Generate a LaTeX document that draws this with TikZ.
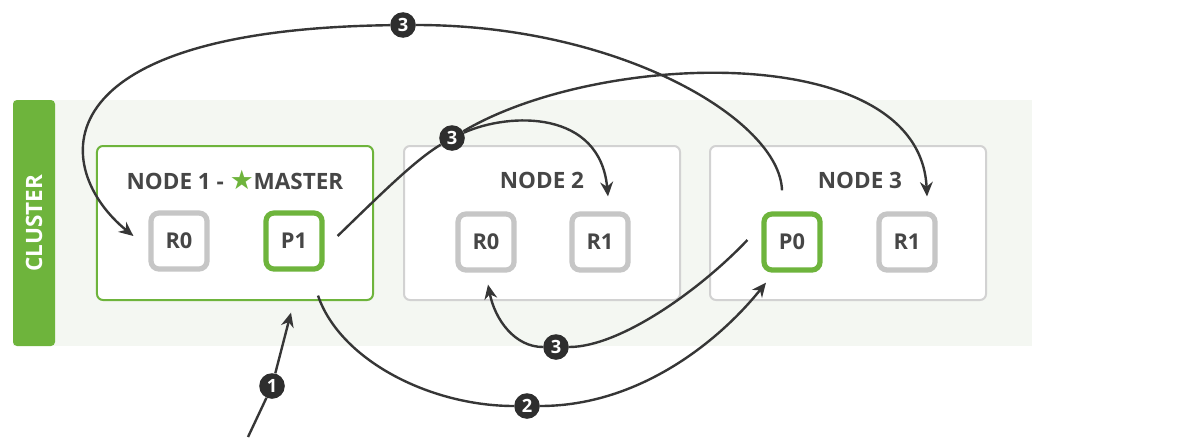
\documentclass[tikz,border=0pt]{standalone}
\usepackage{fontspec}
\setmainfont{Open Sans}
\newfontfamily\starfont{DejaVu Sans}
\usetikzlibrary{arrows.meta}

\definecolor{esgreen}{HTML}{6EB43C}
\definecolor{clusterbg}{HTML}{F4F7F2}
\definecolor{boxgray}{HTML}{D2D2D2}
\definecolor{shardgray}{HTML}{C6C6C6}
\definecolor{txtgray}{HTML}{464646}
\definecolor{linkgray}{HTML}{363636}
\definecolor{badgegray}{HTML}{2E2E2E}

\begin{document}
\begin{tikzpicture}[x=0.25mm, y=-0.25mm, >={Stealth[length=3.6mm, width=3.2mm]},
  font=\bfseries\fontsize{16}{18}\selectfont,
  box/.style={draw=boxgray, line width=0.5mm, fill=white, rounded corners=1.5mm,
    minimum width=69mm, minimum height=38.5mm},
  shard/.style={draw=shardgray, line width=1.3mm, fill=white, rounded corners=2mm,
    minimum size=14mm, text=txtgray, font=\bfseries\fontsize{15.5}{16}\selectfont},
  primary/.style={shard, draw=esgreen},
  title/.style={text=txtgray},
  badge/.style={circle, fill=badgegray, text=white, inner sep=0pt, minimum size=6.4mm,
    font=\bfseries\fontsize{13}{13}\selectfont},
  link/.style={->, line width=0.6mm, draw=linkgray}]
  \useasboundingbox (0,0) rectangle (1189,443);

  % cluster
  \fill[clusterbg] (13,100) rectangle (1032,346);
  \fill[esgreen, rounded corners=1mm] (13,100) rectangle (55,346);
  \node[rotate=90, text=white] (cl) at (34,223) {CLUSTER};

  % nodes
  \node[box, draw=esgreen] (n1) at (235,223) {};
  \node[box] (n2) at (542,223) {};
  \node[box] (n3) at (848,223) {};
  \node[title] (t1) at (235,180) {NODE 1 - {\color{esgreen}\starfont\fontsize{19}{18}\selectfont ★}MASTER};
  \node[title] (t2) at (542,180) {NODE 2};
  \node[title] (t3) at (860,180) {NODE 3};

  % shards
  \node[shard] (n1r0) at (179,241) {R0};
  \node[primary] (n1p1) at (294,241) {P1};
  \node[shard] (n2r0) at (486,242) {R0};
  \node[shard] (n2r1) at (600,242) {R1};
  \node[primary] (n3p0) at (792,242) {P0};
  \node[shard] (n3r1) at (907,242) {R1};

  % steps
  \node[badge] (b1) at (272,386) {1};
  \node[badge] (b2) at (527,406) {2};
  \node[badge] (b3top) at (403,25) {3};
  \node[badge] (b3mid) at (452,138) {3};
  \node[badge] (b3low) at (556,347) {3};

  \coordinate (in1) at (248,437);
  \draw[link] (in1) -- (b1) -- ([shift={(-3,41)}]n1p1.south);
  \draw[link] ([shift={(24,24)}]n1p1.south) .. controls (340,360) and (430,406) .. (b2)
                                             .. controls (640,406) and (720,340) .. ([shift={(-26,10)}]n3p0.south);
  \draw[link] ([shift={(-10,-21)}]n3p0.north) .. controls (780,120) and (620,25) .. (b3top)
                                              .. controls (35,30) and (52,170) .. ([shift={(-15,-5)}]n1r0.west);
  \draw[link] ([shift={(13,-5)}]n1p1.east) .. controls (380,195) and (415,160) .. (b3mid)
                                           .. controls (600,50) and (920,40) .. ([shift={(20,-15)}]n3r1.north);
  \draw[link] (b3mid) .. controls (510,112) and (600,110) .. ([shift={(8,-15)}]n2r1.north);
  \draw[link] ([shift={(-14,-2)}]n3p0.west) .. controls (700,290) and (620,347) .. (b3low)
                                            .. controls (515,347) and (495,320) .. ([shift={(2,12)}]n2r0.south);
\end{tikzpicture}
\end{document}
